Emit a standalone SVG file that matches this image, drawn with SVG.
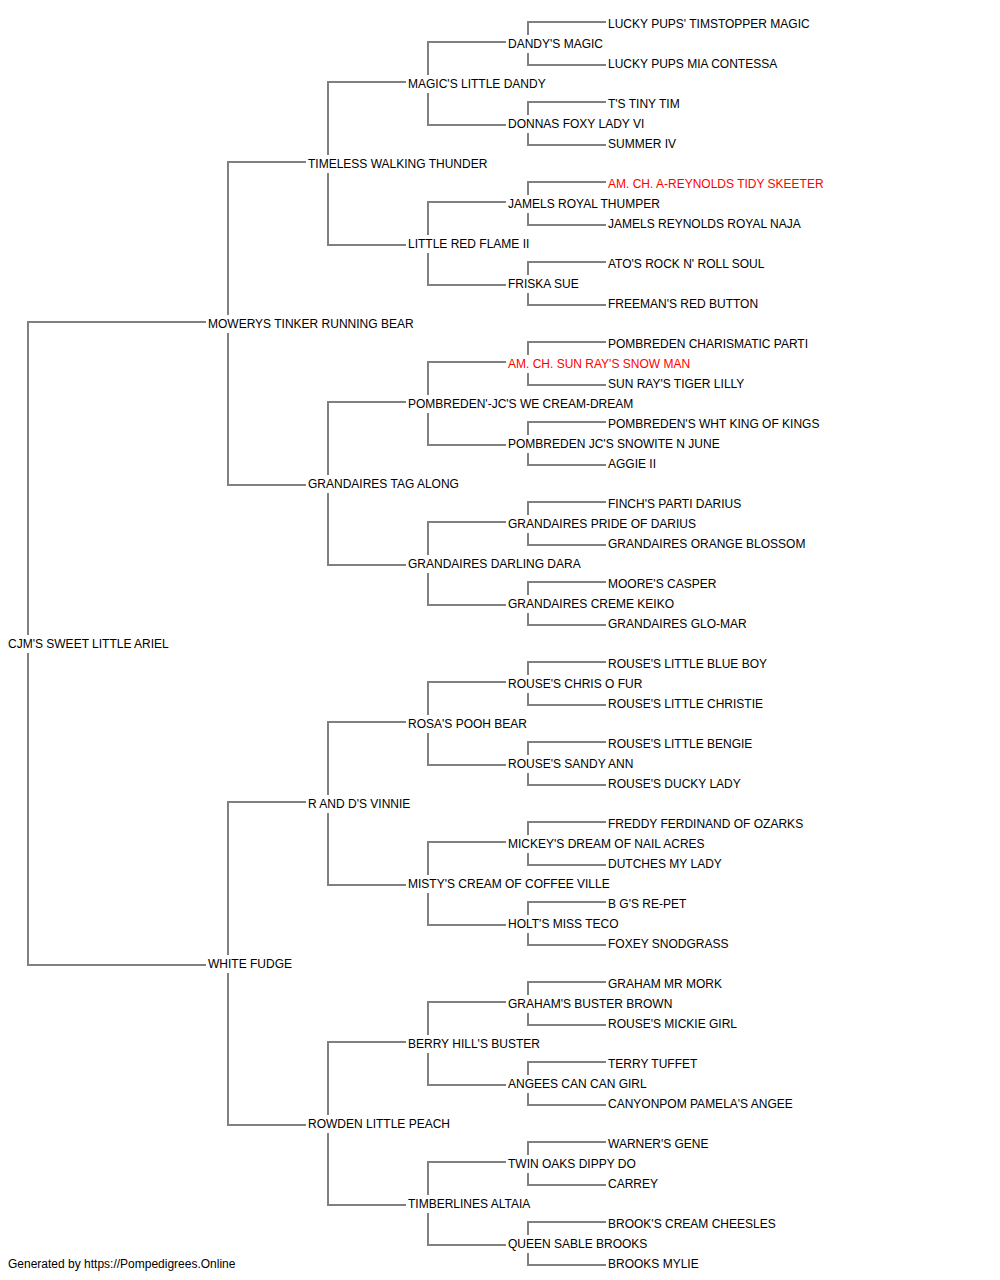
<svg xmlns="http://www.w3.org/2000/svg" width="1000" height="1280" viewBox="0 0 1000 1280">
<style>
.c{fill:none;stroke:#808080;stroke-width:2}
text{font-family:"Liberation Sans",Arial,sans-serif;font-size:12px;fill:#000}
text.red{fill:#ff0000}
</style>
<rect x="0" y="0" width="1000" height="1280" fill="#ffffff"/>
<g id="connectors" class="c">
<path d="M206 322H28V635M28 653V965H206"/>
<path d="M306 162H228V315M228 333V485H306"/>
<path d="M306 802H228V955M228 973V1125H306"/>
<path d="M406 82H328V155M328 173V245H406"/>
<path d="M406 402H328V475M328 493V565H406"/>
<path d="M406 722H328V795M328 813V885H406"/>
<path d="M406 1042H328V1115M328 1133V1205H406"/>
<path d="M506 42H428V75M428 93V125H506"/>
<path d="M506 202H428V235M428 253V285H506"/>
<path d="M506 362H428V395M428 413V445H506"/>
<path d="M506 522H428V555M428 573V605H506"/>
<path d="M506 682H428V715M428 733V765H506"/>
<path d="M506 842H428V875M428 893V925H506"/>
<path d="M506 1002H428V1035M428 1053V1085H506"/>
<path d="M506 1162H428V1195M428 1213V1245H506"/>
<path d="M606 22H528V35M528 53V65H606"/>
<path d="M606 102H528V115M528 133V145H606"/>
<path d="M606 182H528V195M528 213V225H606"/>
<path d="M606 262H528V275M528 293V305H606"/>
<path d="M606 342H528V355M528 373V385H606"/>
<path d="M606 422H528V435M528 453V465H606"/>
<path d="M606 502H528V515M528 533V545H606"/>
<path d="M606 582H528V595M528 613V625H606"/>
<path d="M606 662H528V675M528 693V705H606"/>
<path d="M606 742H528V755M528 773V785H606"/>
<path d="M606 822H528V835M528 853V865H606"/>
<path d="M606 902H528V915M528 933V945H606"/>
<path d="M606 982H528V995M528 1013V1025H606"/>
<path d="M606 1062H528V1075M528 1093V1105H606"/>
<path d="M606 1142H528V1155M528 1173V1185H606"/>
<path d="M606 1222H528V1235M528 1253V1265H606"/>
</g>
<g id="n0"><text x="8" y="648">CJM'S SWEET LITTLE ARIEL</text></g>
<g id="n1"><text x="208" y="328">MOWERYS TINKER RUNNING BEAR</text></g>
<g id="n2"><text x="208" y="968">WHITE FUDGE</text></g>
<g id="n3"><text x="308" y="168">TIMELESS WALKING THUNDER</text></g>
<g id="n4"><text x="308" y="488">GRANDAIRES TAG ALONG</text></g>
<g id="n5"><text x="308" y="808">R AND D'S VINNIE</text></g>
<g id="n6"><text x="308" y="1128">ROWDEN LITTLE PEACH</text></g>
<g id="n7"><text x="408" y="88">MAGIC'S LITTLE DANDY</text></g>
<g id="n8"><text x="408" y="248">LITTLE RED FLAME II</text></g>
<g id="n9"><text x="408" y="408">POMBREDEN'-JC'S WE CREAM-DREAM</text></g>
<g id="n10"><text x="408" y="568">GRANDAIRES DARLING DARA</text></g>
<g id="n11"><text x="408" y="728">ROSA'S POOH BEAR</text></g>
<g id="n12"><text x="408" y="888">MISTY'S CREAM OF COFFEE VILLE</text></g>
<g id="n13"><text x="408" y="1048">BERRY HILL'S BUSTER</text></g>
<g id="n14"><text x="408" y="1208">TIMBERLINES ALTAIA</text></g>
<g id="n15"><text x="508" y="48">DANDY'S MAGIC</text></g>
<g id="n16"><text x="508" y="128">DONNAS FOXY LADY VI</text></g>
<g id="n17"><text x="508" y="208">JAMELS ROYAL THUMPER</text></g>
<g id="n18"><text x="508" y="288">FRISKA SUE</text></g>
<g id="n19"><text x="508" y="368" class="red">AM. CH. SUN RAY'S SNOW MAN</text></g>
<g id="n20"><text x="508" y="448">POMBREDEN JC'S SNOWITE N JUNE</text></g>
<g id="n21"><text x="508" y="528">GRANDAIRES PRIDE OF DARIUS</text></g>
<g id="n22"><text x="508" y="608">GRANDAIRES CREME KEIKO</text></g>
<g id="n23"><text x="508" y="688">ROUSE'S CHRIS O FUR</text></g>
<g id="n24"><text x="508" y="768">ROUSE'S SANDY ANN</text></g>
<g id="n25"><text x="508" y="848">MICKEY'S DREAM OF NAIL ACRES</text></g>
<g id="n26"><text x="508" y="928">HOLT'S MISS TECO</text></g>
<g id="n27"><text x="508" y="1008">GRAHAM'S BUSTER BROWN</text></g>
<g id="n28"><text x="508" y="1088">ANGEES CAN CAN GIRL</text></g>
<g id="n29"><text x="508" y="1168">TWIN OAKS DIPPY DO</text></g>
<g id="n30"><text x="508" y="1248">QUEEN SABLE BROOKS</text></g>
<g id="n31"><text x="608" y="28">LUCKY PUPS' TIMSTOPPER MAGIC</text></g>
<g id="n32"><text x="608" y="68">LUCKY PUPS MIA CONTESSA</text></g>
<g id="n33"><text x="608" y="108">T'S TINY TIM</text></g>
<g id="n34"><text x="608" y="148">SUMMER IV</text></g>
<g id="n35"><text x="608" y="188" class="red">AM. CH. A-REYNOLDS TIDY SKEETER</text></g>
<g id="n36"><text x="608" y="228">JAMELS REYNOLDS ROYAL NAJA</text></g>
<g id="n37"><text x="608" y="268">ATO'S ROCK N' ROLL SOUL</text></g>
<g id="n38"><text x="608" y="308">FREEMAN'S RED BUTTON</text></g>
<g id="n39"><text x="608" y="348">POMBREDEN CHARISMATIC PARTI</text></g>
<g id="n40"><text x="608" y="388">SUN RAY'S TIGER LILLY</text></g>
<g id="n41"><text x="608" y="428">POMBREDEN'S WHT KING OF KINGS</text></g>
<g id="n42"><text x="608" y="468">AGGIE II</text></g>
<g id="n43"><text x="608" y="508">FINCH'S PARTI DARIUS</text></g>
<g id="n44"><text x="608" y="548">GRANDAIRES ORANGE BLOSSOM</text></g>
<g id="n45"><text x="608" y="588">MOORE'S CASPER</text></g>
<g id="n46"><text x="608" y="628">GRANDAIRES GLO-MAR</text></g>
<g id="n47"><text x="608" y="668">ROUSE'S LITTLE BLUE BOY</text></g>
<g id="n48"><text x="608" y="708">ROUSE'S LITTLE CHRISTIE</text></g>
<g id="n49"><text x="608" y="748">ROUSE'S LITTLE BENGIE</text></g>
<g id="n50"><text x="608" y="788">ROUSE'S DUCKY LADY</text></g>
<g id="n51"><text x="608" y="828">FREDDY FERDINAND OF OZARKS</text></g>
<g id="n52"><text x="608" y="868">DUTCHES MY LADY</text></g>
<g id="n53"><text x="608" y="908">B G'S RE-PET</text></g>
<g id="n54"><text x="608" y="948">FOXEY SNODGRASS</text></g>
<g id="n55"><text x="608" y="988">GRAHAM MR MORK</text></g>
<g id="n56"><text x="608" y="1028">ROUSE'S MICKIE GIRL</text></g>
<g id="n57"><text x="608" y="1068">TERRY TUFFET</text></g>
<g id="n58"><text x="608" y="1108">CANYONPOM PAMELA'S ANGEE</text></g>
<g id="n59"><text x="608" y="1148">WARNER'S GENE</text></g>
<g id="n60"><text x="608" y="1188">CARREY</text></g>
<g id="n61"><text x="608" y="1228">BROOK'S CREAM CHEESLES</text></g>
<g id="n62"><text x="608" y="1268">BROOKS MYLIE</text></g>
<g id="footer"><text x="8" y="1268">Generated by https://Pompedigrees.Online</text></g>
</svg>
